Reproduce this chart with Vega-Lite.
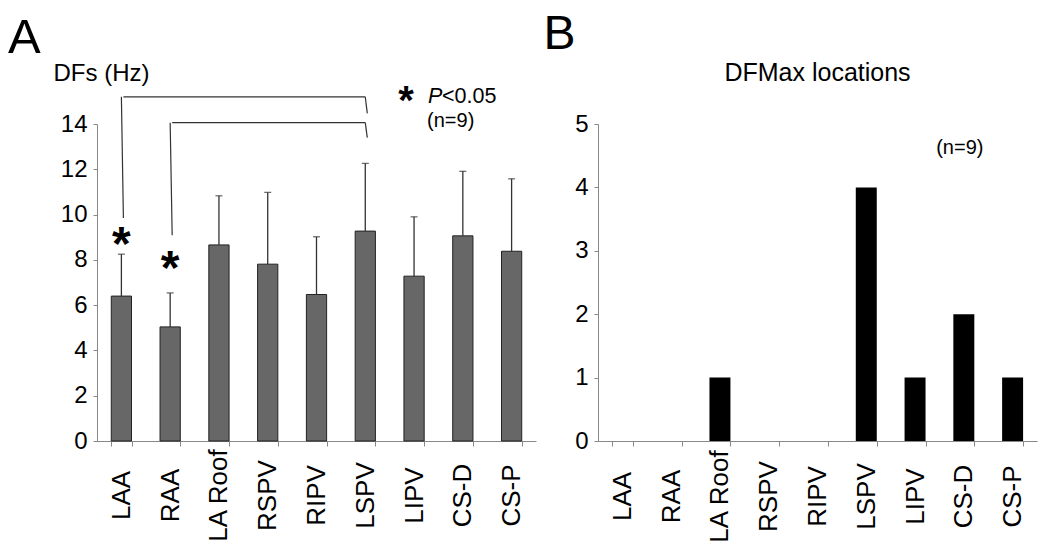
{
  "$schema": "https://vega.github.io/schema/vega-lite/v6.json",
  "autosize": {"type": "none"},
  "padding": {"left": 97, "top": 124, "right": 953, "bottom": 421},
  "background": "white",
  "config": {
    "font": "Liberation Sans",
    "view": {"stroke": null},
    "axis": {
      "grid": false,
      "domainColor": "#888888",
      "tickColor": "#888888",
      "labelColor": "black",
      "labelFont": "Liberation Sans",
      "labelFontSize": 24,
      "titleFont": "Liberation Sans",
      "titleFontWeight": "normal",
      "titleColor": "black"
    },
    "title": {"font": "Liberation Sans", "fontWeight": "normal", "color": "black"},
    "text": {"font": "Liberation Sans", "color": "black"}
  },
  "bounds": "flush",
  "spacing": 62,
  "datasets": {
    "dfs": [
      {"site": "LAA", "mean": 6.40, "upper": 8.25},
      {"site": "RAA", "mean": 5.04, "upper": 6.54},
      {"site": "LA Roof", "mean": 8.66, "upper": 10.83},
      {"site": "RSPV", "mean": 7.81, "upper": 10.98},
      {"site": "RIPV", "mean": 6.47, "upper": 9.02},
      {"site": "LSPV", "mean": 9.27, "upper": 12.26},
      {"site": "LIPV", "mean": 7.28, "upper": 9.90},
      {"site": "CS-D", "mean": 9.06, "upper": 11.91},
      {"site": "CS-P", "mean": 8.38, "upper": 11.58}
    ],
    "brackets": [
      {"from": "LAA", "to": "LSPV", "ya": 15.2, "yb": 15.2},
      {"from": "LAA", "to": "LAA", "ya": 9.85, "yb": 15.2},
      {"from": "LSPV", "to": "LSPV", "ya": 14.47, "yb": 15.2},
      {"from": "RAA", "to": "LSPV", "ya": 14.06, "yb": 14.06},
      {"from": "RAA", "to": "RAA", "ya": 9.09, "yb": 14.06},
      {"from": "LSPV", "to": "LSPV", "ya": 13.4, "yb": 14.06}
    ],
    "stars": [
      {"site": "LAA", "y": 8.0},
      {"site": "RAA", "y": 6.95}
    ],
    "dfmax": [
      {"site": "LAA", "count": 0},
      {"site": "RAA", "count": 0},
      {"site": "LA Roof", "count": 1},
      {"site": "RSPV", "count": 0},
      {"site": "RIPV", "count": 0},
      {"site": "LSPV", "count": 4},
      {"site": "LIPV", "count": 1},
      {"site": "CS-D", "count": 2},
      {"site": "CS-P", "count": 1}
    ]
  },
  "hconcat": [
    {
      "width": 439,
      "height": 317,
      "title": {"text": "A", "anchor": "start", "frame": "group", "fontSize": 49, "dx": -89, "offset": -2},
      "layer": [
        {
          "data": {"name": "dfs"},
          "mark": {"type": "bar", "fill": "#676767", "stroke": "#222222", "strokeWidth": 1},
          "encoding": {
            "x": {
              "field": "site", "type": "nominal", "title": null,
              "scale": {"domain": ["LAA", "RAA", "LA Roof", "RSPV", "RIPV", "LSPV", "LIPV", "CS-D", "CS-P"], "paddingInner": 0.585, "paddingOuter": 0.2925},
              "axis": {"labelAngle": -90, "labelAlign": "center", "labelBaseline": "middle", "labelPadding": 49, "labelFontSize": 26, "tickSize": 5, "tickBand": "extent"}
            },
            "y": {
              "field": "mean", "type": "quantitative", "title": "DFs (Hz)",
              "scale": {"domain": [0, 14]},
              "axis": {"values": [0, 2, 4, 6, 8, 10, 12, 14], "tickSize": 4, "labelPadding": 6, "titleAngle": 0, "titleAlign": "left", "titleBaseline": "alphabetic", "titleX": -44, "titleY": -44, "titleFontSize": 24}
            }
          }
        },
        {
          "data": {"name": "dfs"},
          "mark": {"type": "rule", "color": "#333333", "strokeWidth": 1.3},
          "encoding": {
            "x": {"field": "site", "type": "nominal", "title": null},
            "y": {"field": "mean", "type": "quantitative", "title": "DFs (Hz)"},
            "y2": {"field": "upper"}
          }
        },
        {
          "data": {"name": "dfs"},
          "mark": {"type": "tick", "color": "#333333", "size": 7, "thickness": 1.3},
          "encoding": {
            "x": {"field": "site", "type": "nominal", "title": null},
            "y": {"field": "upper", "type": "quantitative", "title": "DFs (Hz)"}
          }
        },
        {
          "data": {"name": "brackets"},
          "mark": {"type": "rule", "color": "#333333", "strokeWidth": 1.2, "xOffset": 2, "clip": false},
          "encoding": {
            "x": {"field": "from", "type": "nominal", "title": null},
            "x2": {"field": "to"},
            "y": {"field": "ya", "type": "quantitative", "title": "DFs (Hz)"},
            "y2": {"field": "yb"}
          }
        },
        {
          "data": {"name": "stars"},
          "mark": {"type": "text", "text": "*", "fontSize": 48, "fontWeight": "bold", "align": "center", "baseline": "alphabetic"},
          "encoding": {
            "x": {"field": "site", "type": "nominal", "title": null},
            "y": {"field": "y", "type": "quantitative", "title": "DFs (Hz)"}
          }
        },
        {
          "data": {"values": [{"site": "LIPV", "y": 14.46}]},
          "mark": {"type": "text", "text": "*", "fontSize": 40, "fontWeight": "bold", "align": "center", "baseline": "alphabetic", "dx": -8, "clip": false},
          "encoding": {
            "x": {"field": "site", "type": "nominal", "title": null},
            "y": {"field": "y", "type": "quantitative", "title": "DFs (Hz)"}
          }
        },
        {
          "data": {"values": [{"site": "LIPV", "y": 14.93}]},
          "mark": {"type": "text", "text": "P", "fontSize": 21.5, "fontStyle": "italic", "align": "left", "baseline": "alphabetic", "dx": 14, "clip": false},
          "encoding": {
            "x": {"field": "site", "type": "nominal", "title": null},
            "y": {"field": "y", "type": "quantitative", "title": "DFs (Hz)"}
          }
        },
        {
          "data": {"values": [{"site": "LIPV", "y": 14.93}]},
          "mark": {"type": "text", "text": "<0.05", "fontSize": 21.5, "align": "left", "baseline": "alphabetic", "dx": 28, "clip": false},
          "encoding": {
            "x": {"field": "site", "type": "nominal", "title": null},
            "y": {"field": "y", "type": "quantitative", "title": "DFs (Hz)"}
          }
        },
        {
          "data": {"values": [{"site": "LIPV", "y": 13.87}]},
          "mark": {"type": "text", "text": "(n=9)", "fontSize": 20, "align": "left", "baseline": "alphabetic", "dx": 13, "clip": false},
          "encoding": {
            "x": {"field": "site", "type": "nominal", "title": null},
            "y": {"field": "y", "type": "quantitative", "title": "DFs (Hz)"}
          }
        }
      ]
    },
    {
      "width": 439,
      "height": 317,
      "title": {"text": "DFMax locations", "anchor": "middle", "frame": "group", "fontSize": 25, "offset": -76},
      "layer": [
        {
          "data": {"name": "dfmax"},
          "mark": {"type": "bar", "fill": "black"},
          "encoding": {
            "x": {
              "field": "site", "type": "nominal", "title": null,
              "scale": {"domain": ["LAA", "RAA", "LA Roof", "RSPV", "RIPV", "LSPV", "LIPV", "CS-D", "CS-P"], "paddingInner": 0.57, "paddingOuter": 0.285},
              "axis": {"labelAngle": -90, "labelAlign": "center", "labelBaseline": "middle", "labelPadding": 50, "labelFontSize": 26, "tickSize": 5, "tickBand": "extent"}
            },
            "y": {
              "field": "count", "type": "quantitative", "title": "B",
              "scale": {"domain": [0, 5]},
              "axis": {"values": [0, 1, 2, 3, 4, 5], "format": "d", "tickSize": 4, "labelPadding": 6, "titleAngle": 0, "titleAlign": "left", "titleBaseline": "alphabetic", "titleX": -55, "titleY": -76, "titleFontSize": 48}
            }
          }
        },
        {
          "data": {"values": [{"site": "CS-D", "y": 4.52}]},
          "mark": {"type": "text", "text": "(n=9)", "fontSize": 20, "align": "center", "baseline": "alphabetic", "dx": -4},
          "encoding": {
            "x": {"field": "site", "type": "nominal", "title": null},
            "y": {"field": "y", "type": "quantitative", "title": "B"}
          }
        }
      ]
    }
  ]
}
